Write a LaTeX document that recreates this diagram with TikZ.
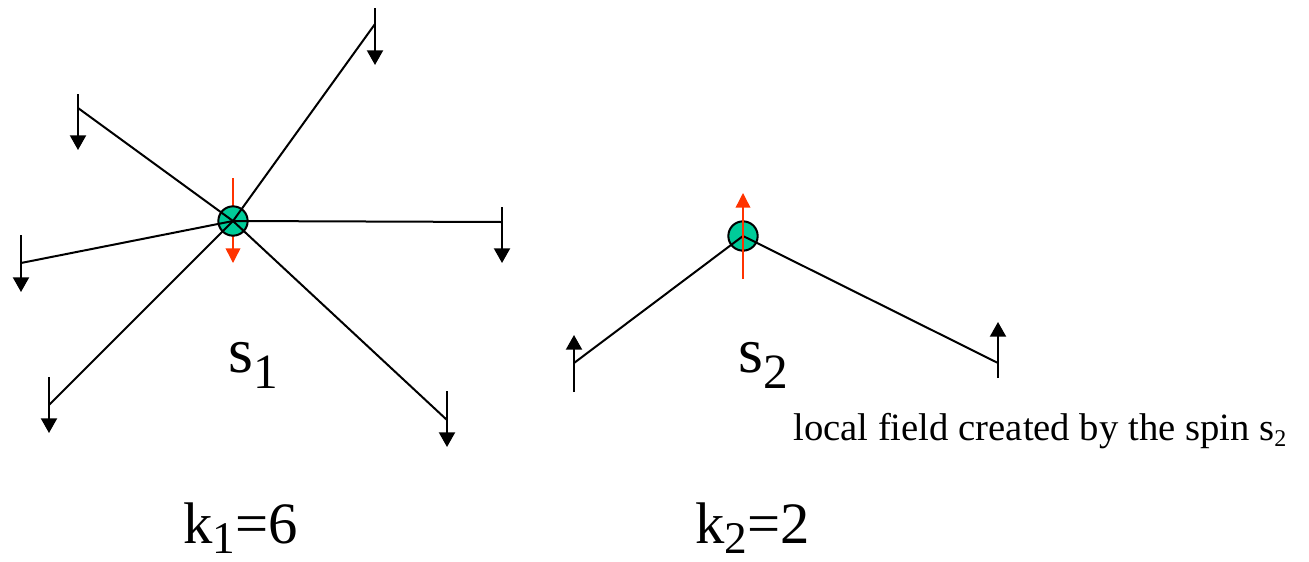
\documentclass[tikz,border=0pt]{standalone}
\usepackage{fontspec}
\setmainfont{Liberation Serif}
\usetikzlibrary{arrows.meta}
\definecolor{spinteal}{RGB}{0,204,153}
\definecolor{fieldred}{RGB}{255,51,0}
\tikzset{
  bond/.style={line width=1.5pt,black},
  spin/.style={circle,draw=black,line width=1.5pt,fill=spinteal,minimum size=22pt,inner sep=0pt},
  spin arrow/.style={-{Triangle[length=11pt,width=12pt]},line width=1.5pt,black},
  field arrow/.style={-{Triangle[length=11pt,width=11pt]},line width=1.1pt,fieldred},
  biglabel/.style={anchor=base west,inner sep=0pt,font=\fontsize{48}{48}\selectfont},
  klabel/.style={anchor=base west,inner sep=0pt,font=\fontsize{44}{44}\selectfont}
}
\newcommand{\lowsub}[3]{\raisebox{-#1}{\fontsize{#2}{#2}\selectfont #3}}

\begin{document}
\begin{tikzpicture}[x=0.75pt,y=-0.75pt]
\useasboundingbox (0,0) rectangle (1309,561);

% -------- spin s1, k1 = 6 --------
\draw[field arrow] (233,178) -- (233,263);
\node[spin] (s1) at (233,221) {};
\foreach \nm/\x/\y/\top/\tip in {a1/375/24/8/65, a2/78/108/94/150, a3/21/263/235/292,
                                  a4/502/222/207/263, a5/49/405/377/433, a6/447/420/391/447}{
  \coordinate (\nm) at (\x,\y);
  \draw[bond] (s1.center) -- (\nm);
  \draw[spin arrow] (\x,\top) -- (\x,\tip);
}

% -------- spin s2, k2 = 2 --------
\node[spin] (s2) at (743,236) {};
\foreach \nm/\x/\y/\top/\tip in {b1/574/363/392/335, b2/998/363/378/322}{
  \coordinate (\nm) at (\x,\y);
  \draw[bond] (s2.center) -- (\nm);
  \draw[spin arrow] (\x,\top) -- (\x,\tip);
}
\draw[field arrow] (743,279) -- (743,193);

% Labels
\node[biglabel] (lab1) at (228,372) {s\lowsub{12pt}{37}{1}};
\node[biglabel] (lab2) at (738,372) {s\lowsub{12pt}{37}{2}};
\node[klabel] (k1) at (183,543) {k\lowsub{8pt}{34}{1}=6};
\node[klabel] (k2) at (695,543) {k\lowsub{8pt}{34}{2}=2};
\node[anchor=base west,inner sep=0pt,font=\fontsize{29}{29}\selectfont] (field) at (793,440)
  {local field created by the spin s\lowsub{5pt}{18}{2}};

\end{tikzpicture}
\end{document}
